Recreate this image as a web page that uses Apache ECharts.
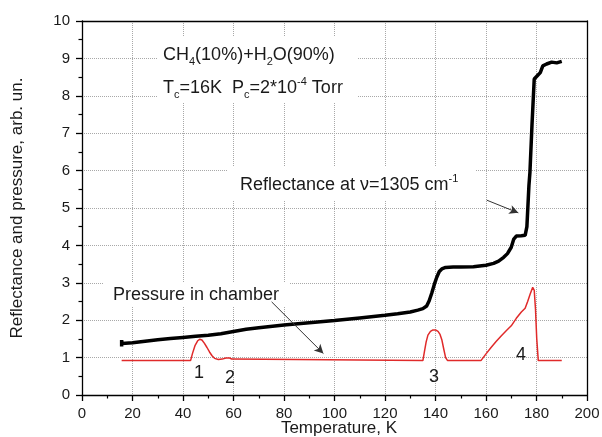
<!DOCTYPE html>
<html>
<head>
<meta charset="utf-8">
<script src="https://cdn.jsdelivr.net/npm/echarts@6/dist/echarts.min.js"></script>
<style>html,body{margin:0;padding:0;background:#fff}#c{width:602px;height:437px}</style>
</head>
<body>
<div id="c"></div>
<script>
// Reflectance (black) curve: temperature (K) and value
const reflT = [15.7, 15.7, 15.8, 20, 25, 30, 35, 40, 45, 50, 55, 60, 65, 70, 80, 90, 100, 110, 120, 125, 130, 133, 135, 136.5, 137.5, 138.5, 139.5, 140.5, 141.5, 142.5, 144, 147, 150, 155, 160, 163, 165, 167, 168.5, 170, 171, 172, 174, 175.5, 176.0, 176.2, 177.0, 177.4, 178.2, 179.1, 179.6, 180.5, 181.5, 182.5, 184, 186, 188, 190];
const reflV = [1.30, 1.47, 1.38, 1.40, 1.44, 1.48, 1.51, 1.54, 1.57, 1.60, 1.64, 1.70, 1.76, 1.80, 1.87, 1.93, 1.99, 2.06, 2.13, 2.17, 2.22, 2.27, 2.31, 2.38, 2.52, 2.72, 2.95, 3.15, 3.30, 3.37, 3.41, 3.42, 3.42, 3.43, 3.47, 3.52, 3.58, 3.68, 3.78, 3.95, 4.17, 4.25, 4.26, 4.27, 4.28, 4.5, 5.6, 5.95, 7.2, 8.45, 8.5, 8.55, 8.62, 8.8, 8.85, 8.9, 8.88, 8.92];
// Pressure (red) curve
const presT = [15.7, 43, 43.8, 44.8, 45.8, 46.6, 47.5, 48.5, 49.5, 50.5, 51.5, 52.5, 54, 55.5, 57, 58.5, 59.3, 60, 135, 135.6, 136.3, 137, 138, 139, 140, 141, 141.8, 142.5, 143.2, 144, 144.8, 158, 160, 162, 164, 166, 168, 170, 172, 174, 175.5, 176.5, 177.5, 178.5, 179.1, 179.6, 180.1, 180.7, 190];
const presV = [0.92, 0.92, 1.12, 1.33, 1.45, 1.49, 1.47, 1.38, 1.27, 1.15, 1.05, 0.98, 0.95, 0.96, 0.99, 0.99, 0.96, 0.92, 0.92, 1.15, 1.42, 1.6, 1.7, 1.74, 1.74, 1.7, 1.62, 1.48, 1.25, 1.0, 0.92, 0.92, 1.1, 1.27, 1.43, 1.58, 1.72, 1.85, 2.05, 2.22, 2.32, 2.5, 2.7, 2.88, 2.8, 2.3, 1.5, 0.92, 0.92];
// Annotation arrows (data coordinates: start, end)
const arrowRefl = [[160.3, 5.21], [172.8, 4.87]];
const arrowPres = [[75.1, 2.49], [95.6, 1.11]];
// Axis settings
const xMin = 0, xMax = 200, xStep = 20;
const yMin = 0, yMax = 10, yStep = 1;
const xTitle = 'Temperature, K';
const yTitle = 'Reflectance and pressure, arb. un.';

const FONT = 'Liberation Sans, Arial, sans-serif';
const TXT = '#1a1a1a';
const chart = echarts.init(document.getElementById('c'), null, {renderer: 'canvas'});

const rich = {
  n: {fontSize: 18, fontFamily: FONT, lineHeight: 24, verticalAlign: 'middle', color: TXT},
  s4: {fontSize: 11, fontFamily: FONT, lineHeight: 17, verticalAlign: 'bottom', color: TXT},
  sc: {fontSize: 11, fontFamily: FONT, lineHeight: 4, verticalAlign: 'bottom', color: TXT},
  sp: {fontSize: 11, fontFamily: FONT, lineHeight: 11, verticalAlign: 'top', color: TXT}
};
function txt(x, y, text, align) {
  return {type: 'text', x: x, y: y, z: 10, silent: true,
    style: {text: text, rich: rich, align: align || 'left', verticalAlign: 'middle', fill: TXT, font: '18px ' + FONT}};
}
function box(x, y, w, h) {
  return {type: 'rect', z: 1, silent: true, shape: {x: x, y: y, width: w, height: h}, style: {fill: '#fff'}};
}
const lineS = {color: '#000', width: 1.3};
const frame = {
  type: 'value', axisLine: {show: true, onZero: false, lineStyle: lineS},
  axisTick: {show: false}, axisLabel: {show: false}, splitLine: {show: false}
};

chart.setOption({
  animation: false,
  backgroundColor: '#fff',
  grid: {left: 82, right: 15, top: 21, bottom: 42, containLabel: false, outerBoundsMode: 'none'},
  xAxis: [{
    type: 'value', min: xMin, max: xMax, interval: xStep, position: 'bottom',
    axisLine: {show: true, onZero: false, lineStyle: lineS},
    axisTick: {show: true, length: 6, lineStyle: lineS},
    minorTick: {show: true, splitNumber: 2, length: 3.5, lineStyle: {color: '#000', width: 1.2}},
    splitLine: {show: true, lineStyle: {color: '#a8a8a8', type: 'dotted', width: 1}},
    axisLabel: {color: TXT, fontSize: 15, fontFamily: FONT, margin: 11}
  }, Object.assign({position: 'top', min: xMin, max: xMax}, frame)],
  yAxis: [{
    type: 'value', min: yMin, max: yMax, interval: yStep, position: 'left',
    axisLine: {show: true, onZero: false, lineStyle: lineS},
    axisTick: {show: true, length: 6, lineStyle: lineS},
    minorTick: {show: true, splitNumber: 2, length: 3.5, lineStyle: {color: '#000', width: 1.2}},
    splitLine: {show: true, lineStyle: {color: '#a8a8a8', type: 'dotted', width: 1}},
    axisLabel: {color: TXT, fontSize: 15, fontFamily: FONT, margin: 12},
    name: yTitle, nameLocation: 'middle', nameGap: 56,
    nameTextStyle: {color: TXT, fontSize: 17, fontFamily: FONT}
  }, Object.assign({position: 'right', min: yMin, max: yMax}, frame)],
  series: [
    {
      type: 'line', data: reflT.map((t, i) => [t, reflV[i]]), showSymbol: false, symbol: 'none', z: 3,
      lineStyle: {color: '#000', width: 3.5}, silent: true
    },
    {
      type: 'line', data: presT.map((t, i) => [t, presV[i]]), showSymbol: false, symbol: 'none', z: 4,
      lineStyle: {color: '#e02a2a', width: 1.5}, silent: true,
      markLine: {
        silent: true, symbol: ['none', 'arrow'], symbolSize: [7, 9], label: {show: false},
        lineStyle: {color: '#333', width: 1, type: 'solid'},
        data: [
          [{coord: arrowRefl[0]}, {coord: arrowRefl[1]}],
          [{coord: arrowPres[0]}, {coord: arrowPres[1]}]
        ]
      }
    }
  ],
  graphic: [
    box(157, 37, 200, 65),
    box(228, 166, 247, 34),
    box(103, 282, 187, 25),
    txt(163, 55, '{n|CH}{s4|4}{n|(10%)+H}{s4|2}{n|O(90%)}'),
    txt(163, 88, '{n|T}{sc|c}{n|=16K  P}{sc|c}{n|=2*10}{sp|-4}{n| Torr}'),
    txt(240, 185, '{n|Reflectance at ν=1305 cm}{sp|-1}'),
    txt(113, 295, '{n|Pressure in chamber}'),
    txt(199, 373, '{n|1}', 'center'),
    txt(230, 378, '{n|2}', 'center'),
    txt(434, 377, '{n|3}', 'center'),
    txt(521, 355, '{n|4}', 'center'),
    {type: 'text', x: 339, y: 428, z: 10, silent: true,
      style: {text: xTitle, align: 'center', verticalAlign: 'middle', fill: TXT, font: '17px ' + FONT}}
  ]
});
</script>
</body>
</html>
